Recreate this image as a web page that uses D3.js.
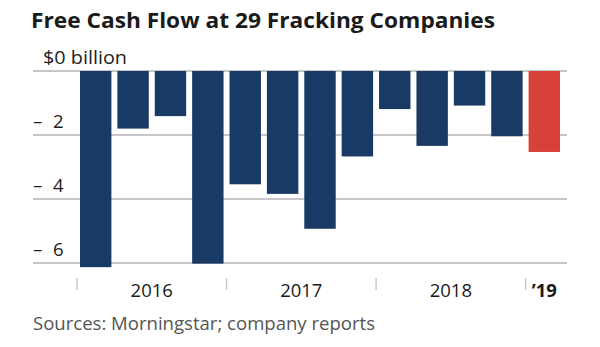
<!DOCTYPE html>
<html><head><meta charset="utf-8">
<script src="https://cdn.jsdelivr.net/npm/d3@7"></script>
<style>
body{margin:0;background:#fff;}
svg{display:block;font-family:"Open Sans","Noto Sans",sans-serif;}
</style></head>
<body><svg id="c" width="600" height="347"></svg>
<script>
const quarters = ["2016Q1","2016Q2","2016Q3","2016Q4","2017Q1","2017Q2","2017Q3","2017Q4","2018Q1","2018Q2","2018Q3","2018Q4","2019Q1"];
const values = [-6.13,-1.80,-1.41,-6.02,-3.54,-3.84,-4.93,-2.67,-1.19,-2.34,-1.08,-2.04,-2.53];
const yTicks = [0,-2,-4,-6];
const yearLabels = ["2016","2017","2018","’19"];
const yearGroups = [["2016Q1","2016Q4"],["2017Q1","2017Q4"],["2018Q1","2018Q4"],["2019Q1","2019Q1"]];

const svg = d3.select("#c");
const x = d3.scaleBand().domain(quarters).range([77,563]).paddingInner(0.16).paddingOuter(0.08);
const y = d3.scaleLinear().domain([0,-6]).range([71,263]);

svg.append("text").attr("x",31).attr("y",28).attr("font-size",21.5).attr("font-weight",700)
  .attr("fill","#1a1a1a").attr("textLength",464).attr("lengthAdjust","spacingAndGlyphs")
  .text("Free Cash Flow at 29 Fracking Companies");

// gridlines
svg.append("g").selectAll("line").data(yTicks).join("line")
  .attr("x1",33).attr("x2",567).attr("y1",d=>y(d)).attr("y2",d=>y(d))
  .attr("stroke","#b5b5b5").attr("stroke-width",1.5);

// y labels
svg.append("text").attr("x",43).attr("y",y(0)-7).attr("font-size",18.5).attr("fill","#222")
  .attr("textLength",84).attr("lengthAdjust","spacingAndGlyphs").text("$0 billion");
const yl = svg.append("g").selectAll("g").data(yTicks.filter(d=>d!==0)).join("g");
yl.append("text").attr("x",33).attr("y",d=>y(d)-7).attr("font-size",18.5).attr("fill","#222").text("–");
yl.append("text").attr("x",53).attr("y",d=>y(d)-7).attr("font-size",18.5).attr("fill","#222").text(d=>Math.abs(d));

// bars
svg.append("g").selectAll("rect").data(quarters).join("rect")
  .attr("x",d=>x(d)).attr("width",x.bandwidth())
  .attr("y",(d,i)=>y(0)).attr("height",(d,i)=>y(values[i])-y(0))
  .attr("fill",(d,i)=>i===quarters.length-1?"#d8413a":"#183a65");

// year separators
const step = x.step(), gap = step - x.bandwidth();
const seps = yearGroups.map(g=>x(g[0]) - gap/2);
svg.append("g").selectAll("line").data(seps).join("line")
  .attr("x1",d=>d).attr("x2",d=>d).attr("y1",278).attr("y2",290)
  .attr("stroke","#c8c8c8").attr("stroke-width",1.5);

svg.append("g").selectAll("text").data(yearGroups).join("text")
  .attr("x",(g,i)=> i===3 ? x(g[0])+x.bandwidth()/2 : (x(g[0]) + x(g[1]) + x.bandwidth())/2)
  .attr("y",297).attr("text-anchor","middle").attr("font-size",18.5)
  .attr("font-weight",(g,i)=>i===3?700:400).attr("fill","#1a1a1a")
  .text((g,i)=>yearLabels[i]);

svg.append("text").attr("x",33).attr("y",330).attr("font-size",18.5).attr("fill","#555")
  .attr("textLength",342).attr("lengthAdjust","spacingAndGlyphs")
  .text("Sources: Morningstar; company reports");
</script></body></html>
